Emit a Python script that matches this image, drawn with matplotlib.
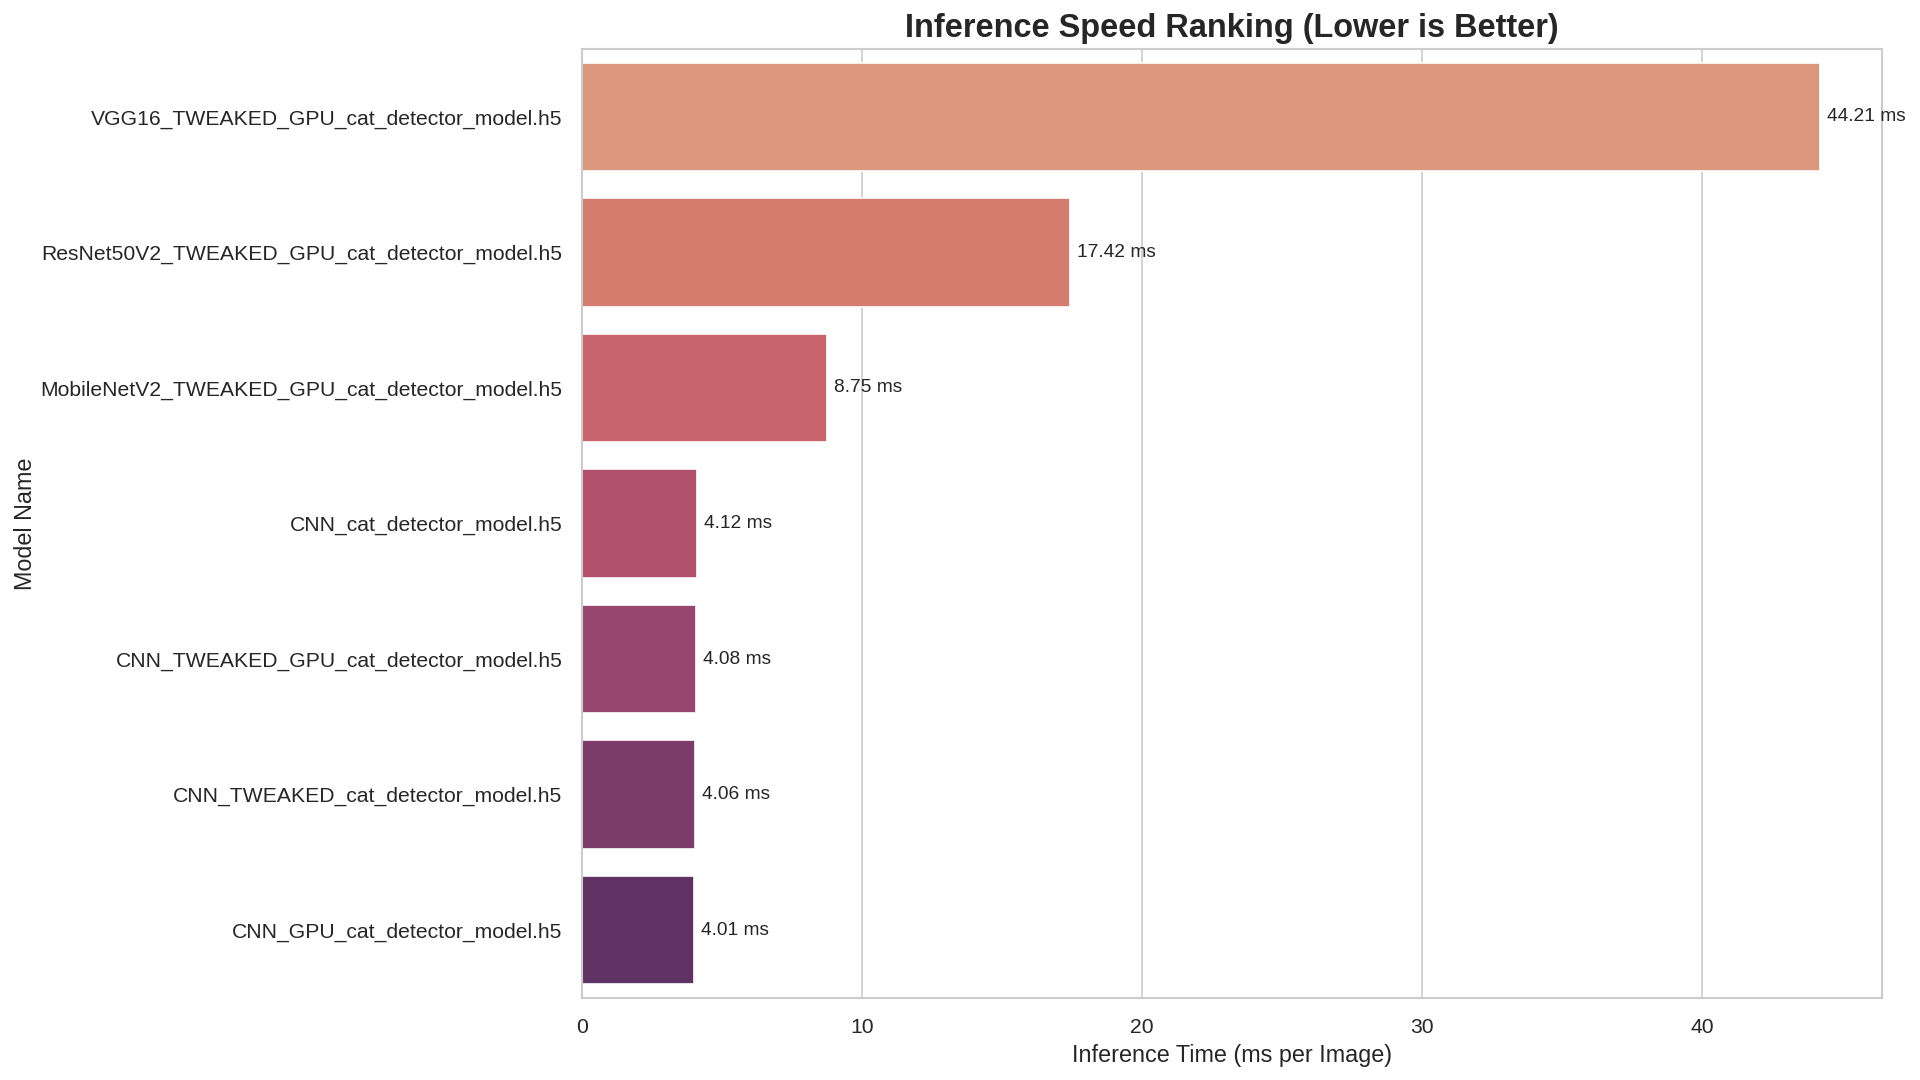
import matplotlib
matplotlib.use('Agg')
import matplotlib.pyplot as plt
import seaborn as sns
import pandas as pd

model_names = [
    'VGG16_TWEAKED_GPU_cat_detector_model.h5',
    'ResNet50V2_TWEAKED_GPU_cat_detector_model.h5',
    'MobileNetV2_TWEAKED_GPU_cat_detector_model.h5',
    'CNN_cat_detector_model.h5',
    'CNN_TWEAKED_GPU_cat_detector_model.h5',
    'CNN_TWEAKED_cat_detector_model.h5',
    'CNN_GPU_cat_detector_model.h5',
]
inference_ms = [44.21, 17.42, 8.75, 4.12, 4.08, 4.06, 4.01]

df = pd.DataFrame({'Model Name': model_names, 'Inference Time': inference_ms})

sns.set_theme(style='whitegrid')
plt.rcParams['font.family'] = ['Liberation Sans', 'DejaVu Sans']

fig, ax = plt.subplots(figsize=(16, 9), dpi=120)
sns.barplot(data=df, x='Inference Time', y='Model Name', hue='Model Name',
            palette='flare', legend=False, ax=ax)

for i, v in enumerate(inference_ms):
    ax.text(v + 0.25, i, f'{v:.2f} ms', va='center', fontsize=11.5)

ax.set_title('Inference Speed Ranking (Lower is Better)', fontsize=19.5, fontweight='bold', pad=7)
ax.set_xlabel('Inference Time (ms per Image)', fontsize=14)
ax.set_ylabel('Model Name', fontsize=14, labelpad=2)
ax.tick_params(labelsize=12.7)
ax.tick_params(axis='y', pad=5.5)
ax.tick_params(axis='x', pad=6)

fig.subplots_adjust(left=0.303, right=0.980, top=0.9546, bottom=0.076)
plt.savefig('out.png')
